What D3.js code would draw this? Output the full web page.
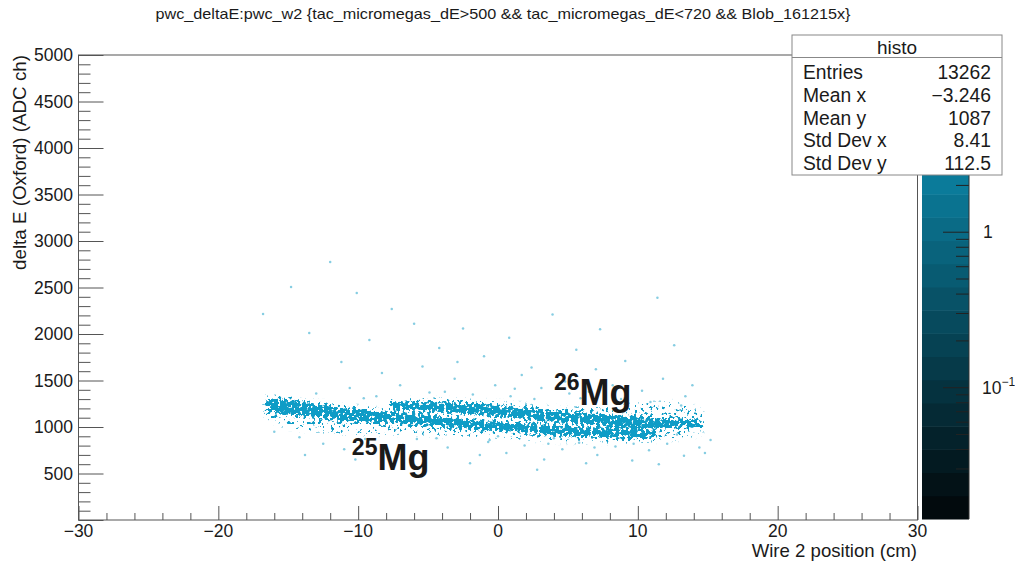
<!DOCTYPE html>
<html>
<head>
<meta charset="utf-8">
<script src="https://cdn.jsdelivr.net/npm/d3@7"></script>
<style>
  body { margin: 0; background: #fff; }
  text { font-family: "Liberation Sans", Arial, Helvetica, sans-serif; fill: #1a1a1a; }
</style>
</head>
<body>
<svg id="chart" width="1015" height="562"></svg>
<script>
// ---- data -------------------------------------------------------------
const titleText = "pwc_deltaE:pwc_w2 {tac_micromegas_dE>500 && tac_micromegas_dE<720 && Blob_161215x}";
const xLabel = "Wire 2 position (cm)";
const yLabel = "delta E (Oxford) (ADC ch)";

const xDomain = [-30, 30];
const yDomain = [0, 5000];
const xMajorTicks = [-30, -20, -10, 0, 10, 20, 30];
const yMajorTicks = [500, 1000, 1500, 2000, 2500, 3000, 3500, 4000, 4500, 5000];

// 25Mg locus: centre line, core half-width, halo extent below / above (ADC ch)
const band25X      = [-16.6, -15.5, -14, -11.7, -9, -6.7, -4, -1, 2, 5, 8, 10, 11.3];
const band25Y      = [1237, 1222, 1196, 1152, 1118, 1090, 1056, 1022, 990, 958, 935, 925, 915];
const band25Core   = [66, 76, 72, 64, 58, 53, 50, 48, 48, 47, 46, 40, 24];
const band25HaloLo = [130, 200, 220, 210, 190, 160, 140, 125, 115, 110, 100, 85, 55];
const band25HaloHi = [90, 95, 95, 90, 80, 62, 55, 52, 52, 55, 58, 55, 40];

// 26Mg locus
const band26X      = [-7.8, -5, -2, 1, 4, 7, 10, 12.5, 14.6];
const band26Y      = [1232, 1214, 1192, 1160, 1112, 1083, 1045, 1040, 1040];
const band26Core   = [34, 51, 54, 54, 54, 53, 56, 48, 24];
const band26HaloLo = [50, 65, 65, 65, 68, 85, 145, 170, 100];
const band26HaloHi = [55, 85, 90, 90, 95, 120, 200, 220, 130];

// isolated entries away from the two loci
const strayX = [-16.8, -12.0, -14.8, -10.1, -13.5, -9.2, -7.6, -6.0, -4.2, -2.5, -1.0, 0.8, 2.4, 3.9, 5.6, 7.3, 9.1, 11.4, 12.6,
  -11.2, -8.3, -5.4, -3.1, -0.2, 1.7, 3.1, 4.8, 6.5, 8.2, 10.3, 11.8, 13.4, -13.0, -10.6, -7.0, -4.9, -1.8, 0.9, 2.6, 5.9,
  -15.6, -9.6, 13.9, -2.9, 7.0,
  -14.2, -12.5, -11.0, -9.5, -8.0, -6.8, -5.2, -3.6, -2.0, -0.7, 0.6, 1.9, 3.3, 4.6, 5.8, 7.1, 8.4, 9.6, 10.8, 12.1, 13.3,
  14.4, 15.2, -6.0, 2.8, 11.5, -10.2, 6.3, -16.0, -13.8, 14.8, -4.4, 9.0, 0.0, -1.3, 4.0, 12.8,
  -3.8, 1.2, 5.1, 8.8, -8.7, 10.9, 13.1, -0.6, 3.6, 6.9, -5.8, 9.7];
const strayY = [2215, 2775, 2505, 2440, 2010, 1935, 2270, 2110, 1850, 2060, 1760, 1960, 1640, 2210, 1830, 2050, 1710, 2390, 1880,
  1700, 1580, 1650, 1520, 1450, 1560, 1420, 1490, 1380, 1450, 1390, 1520, 1330, 1360, 1420, 1450, 1370, 1350, 1330, 1300, 1310,
  1320, 1310, 1450, 1700, 1620,
  890, 820, 760, 870, 720, 810, 690, 780, 610, 840, 720, 800, 650, 760, 830, 700, 790, 640, 750, 820, 690,
  780, 860, 560, 540, 600, 650, 610, 950, 700, 720, 880, 880, 900, 700, 880, 920,
  1380, 1410, 1360, 1300, 1330, 1270, 1230, 860, 820, 780, 870, 820];

const statNames  = ["Entries", "Mean x", "Mean y", "Std Dev x", "Std Dev y"];
const statValues = ["13262", "\u22123.246", "1087", "8.41", "112.5"];

// colour axis (log)
const zDomain = [0.0143, 13.8];
const zLevels = 20;

// ---- layout -----------------------------------------------------------
const svg = d3.select("#chart");
const x = d3.scaleLinear().domain(xDomain).range([78.5, 917.5]);
const y = d3.scaleLinear().domain(yDomain).range([520, 55]);
const z = d3.scaleLog().domain(zDomain).range([519, 55]);
const pointColor = "#0e9cc6";
const axisColor = "#555";

// dithered texture: local density follows the opacity of the shapes drawn
const defs = svg.append("defs");
const speckle = defs.append("filter")
  .attr("id", "speckle")
  .attr("filterUnits", "userSpaceOnUse")
  .attr("x", 0).attr("y", 0).attr("width", 1015).attr("height", 562)
  .attr("color-interpolation-filters", "sRGB");
speckle.append("feGaussianBlur").attr("in", "SourceGraphic").attr("stdDeviation", 2.2).attr("result", "soft");
speckle.append("feTurbulence").attr("type", "fractalNoise").attr("baseFrequency", 0.32)
  .attr("numOctaves", 2).attr("seed", 4).attr("result", "noise");
speckle.append("feColorMatrix").attr("in", "noise").attr("type", "matrix")
  .attr("values", "0 0 0 0 0  0 0 0 0 0  0 0 0 0 0  2.5 0 0 0 -0.75").attr("result", "grain");
speckle.append("feComposite").attr("in", "soft").attr("in2", "grain").attr("operator", "arithmetic")
  .attr("k1", 0).attr("k2", 7).attr("k3", 7).attr("k4", -7).attr("result", "mask");
speckle.append("feFlood").attr("flood-color", pointColor).attr("result", "ink");
speckle.append("feComposite").attr("in", "ink").attr("in2", "mask").attr("operator", "in").attr("result", "dots");
speckle.append("feGaussianBlur").attr("in", "dots").attr("stdDeviation", 0.5);

// ---- title ------------------------------------------------------------
svg.append("text")
  .attr("x", 503).attr("y", 19)
  .attr("text-anchor", "middle")
  .attr("font-size", 15)
  .attr("textLength", 695).attr("lengthAdjust", "spacingAndGlyphs")
  .text(titleText);

// ---- loci -------------------------------------------------------------
function bandRows(xs, ys, core, lo, hi) {
  return xs.map((v, i) => ({ x: v, y: ys[i], core: core[i], lo: lo[i], hi: hi[i] }));
}
const bands = [
  bandRows(band25X, band25Y, band25Core, band25HaloLo, band25HaloHi),
  bandRows(band26X, band26Y, band26Core, band26HaloLo, band26HaloHi)
];
const haloArea = d3.area().curve(d3.curveMonotoneX)
  .x(d => x(d.x)).y0(d => y(d.y - d.lo)).y1(d => y(d.y + d.hi));
const coreArea = d3.area().curve(d3.curveMonotoneX)
  .x(d => x(d.x)).y0(d => y(d.y - d.core)).y1(d => y(d.y + d.core));

const locus = svg.append("g").attr("filter", "url(#speckle)");
bands.forEach(b => {
  locus.append("path").attr("d", haloArea(b)).attr("fill", "#000").attr("fill-opacity", 0.25);
});
bands.forEach(b => {
  locus.append("path").attr("d", coreArea(b)).attr("fill", "#000").attr("fill-opacity", 1);
});

svg.append("g").selectAll("circle")
  .data(strayX.map((v, i) => ({ x: v, y: strayY[i] })))
  .join("circle")
  .attr("cx", d => x(d.x)).attr("cy", d => y(d.y))
  .attr("r", 1.25)
  .attr("fill", pointColor).attr("fill-opacity", 0.5);

// ---- isotope labels ---------------------------------------------------
function isotope(mass, xv, yv) {
  const t = svg.append("text")
    .attr("x", x(xv)).attr("y", y(yv))
    .attr("font-weight", "bold");
  t.append("tspan").attr("font-size", 23).attr("dy", -15).text(mass);
  t.append("tspan").attr("font-size", 36).attr("dy", 15).text("Mg");
}
isotope("25", -10.45, 537);
isotope("26", 4.0, 1237);

// ---- frame and axes ---------------------------------------------------
svg.append("rect")
  .attr("x", x(-30)).attr("y", y(5000))
  .attr("width", x(30) - x(-30)).attr("height", y(0) - y(5000))
  .attr("fill", "none").attr("stroke", axisColor).attr("stroke-width", 1);

const xAxis = svg.append("g").attr("transform", `translate(0,${y(0)})`);
xAxis.call(d3.axisTop(x).tickValues(d3.range(-30, 30.1, 2)).tickSize(7).tickFormat(""));
xAxis.call(g => g.selectAll(".tick")
  .filter(d => xMajorTicks.includes(d)).select("line").attr("y2", -14));
xAxis.selectAll("line, path").attr("stroke", axisColor);
xAxis.select(".domain").remove();
svg.append("g").selectAll("text")
  .data(xMajorTicks).join("text")
  .attr("x", d => x(d)).attr("y", 537)
  .attr("text-anchor", "middle").attr("font-size", 17.5)
  .text(d => d < 0 ? "\u2212" + Math.abs(d) : d);
svg.append("text")
  .attr("x", 917).attr("y", 557)
  .attr("text-anchor", "end").attr("font-size", 18.6)
  .text(xLabel);

const yAxis = svg.append("g").attr("transform", `translate(${x(-30)},0)`);
yAxis.call(d3.axisRight(y).tickValues(d3.range(0, 5001, 100)).tickSize(12).tickFormat(""));
yAxis.call(g => g.selectAll(".tick")
  .filter(d => d % 500 === 0).select("line").attr("x2", 25));
yAxis.selectAll("line, path").attr("stroke", axisColor);
yAxis.select(".domain").remove();
svg.append("g").selectAll("text")
  .data(yMajorTicks).join("text")
  .attr("x", 73).attr("y", d => y(d) + 6)
  .attr("text-anchor", "end").attr("font-size", 17.5)
  .text(d => d);
svg.append("text")
  .attr("transform", "translate(26,55) rotate(-90)")
  .attr("text-anchor", "end").attr("font-size", 18.8)
  .text(yLabel);

// ---- colour bar -------------------------------------------------------
const palette = d3.range(zLevels).map(i => d3.interpolateRgb("#020a0d", "#0ea3cc")(i / (zLevels - 1)));
const lz0 = Math.log10(zDomain[0]), lz1 = Math.log10(zDomain[1]);
const barX = 922, barW = 47;
svg.append("g").selectAll("rect")
  .data(palette).join("rect")
  .attr("x", barX).attr("width", barW)
  .attr("y", (c, i) => z(Math.pow(10, lz0 + (lz1 - lz0) * (i + 1) / zLevels)))
  .attr("height", (c, i) => z(Math.pow(10, lz0 + (lz1 - lz0) * i / zLevels)) -
                            z(Math.pow(10, lz0 + (lz1 - lz0) * (i + 1) / zLevels)) + 0.5)
  .attr("fill", c => c);

const zTicks = [];
[0.01, 0.1, 1, 10].forEach(dec => d3.range(1, 10).forEach(m => {
  const v = dec * m;
  if (v >= 0.025 && v <= zDomain[1]) zTicks.push(v);
}));
svg.append("g").selectAll("line")
  .data(zTicks).join("line")
  .attr("x1", d => barX + barW - ([0.1, 1, 10].includes(+d.toPrecision(3)) ? 26 : 13))
  .attr("x2", barX + barW)
  .attr("y1", d => z(d)).attr("y2", d => z(d))
  .attr("stroke", "#222").attr("stroke-width", 1);
svg.append("line")
  .attr("x1", barX + barW).attr("x2", barX + barW)
  .attr("y1", 55).attr("y2", 519).attr("stroke", "#333");

svg.append("text").attr("x", 983).attr("y", z(1) + 6).attr("font-size", 17.5).text("1");
const dec = svg.append("text").attr("x", 982).attr("y", z(0.1) + 6).attr("font-size", 17.5);
dec.append("tspan").text("10");
dec.append("tspan").attr("font-size", 12).attr("dy", -8).text("\u22121");

// ---- statistics box ---------------------------------------------------
const box = svg.append("g");
box.append("rect")
  .attr("x", 792).attr("y", 35).attr("width", 210).attr("height", 140)
  .attr("fill", "#fff").attr("stroke", "#888");
box.append("line").attr("x1", 792).attr("x2", 1002).attr("y1", 57.5).attr("y2", 57.5).attr("stroke", "#888");
box.append("text").attr("x", 897).attr("y", 54).attr("text-anchor", "middle").attr("font-size", 19).text("histo");
statNames.forEach((n, i) => {
  const by = 79 + i * 22.8;
  box.append("text").attr("x", 803).attr("y", by).attr("font-size", 19.3).text(n);
  box.append("text").attr("x", 991).attr("y", by).attr("text-anchor", "end").attr("font-size", 19.3).text(statValues[i]);
});
</script>
</body>
</html>
